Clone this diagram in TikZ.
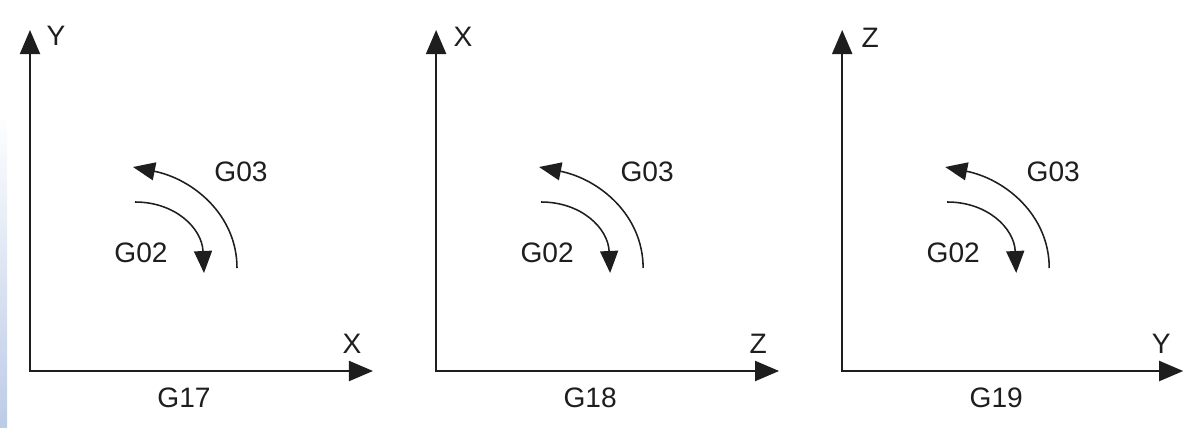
\documentclass[tikz,border=0pt]{standalone}
\usepackage{fontspec}
\setmainfont{Liberation Sans}
\usetikzlibrary{arrows.meta}
\definecolor{ink}{RGB}{30,30,30}
\definecolor{edge}{RGB}{188,203,230}

\begin{document}
\begin{tikzpicture}[x=0.025cm, y=-0.025cm,
  axis/.style={ink, line width=1.4pt, {Triangle[length=0.6cm,width=0.5cm]}-{Triangle[length=0.6cm,width=0.5cm]}},
  turn/.style={ink, line width=1.1pt, -{Triangle[length=0.55cm,width=0.45cm]}},
  lbl/.style={inner sep=0pt, text=ink, font=\fontsize{20}{24}\selectfont}]
  \useasboundingbox (0,0) rectangle (1188,427);
  \shade[top color=white, bottom color=edge] (0,110) rectangle (7,427);
  % G17 plane
  \begin{scope}
  \coordinate (v1) at (30,30);
  \coordinate (o1) at (30,371);
  \coordinate (h1) at (373,371);
  \draw[axis] (v1) -- (o1) -- (h1);
  \coordinate (a1) at (237,268);
  \coordinate (b1) at (133,167);
  \draw[turn] (a1) .. controls +(0,-53) and +(60,12) .. (b1);
  \coordinate (c1) at (135,202);
  \coordinate (d1) at (204,273);
  \draw[turn] (c1) .. controls +(40,0) and +(-2,-45) .. (d1);
  \node[lbl] (up1) at (56,36) {Y};
  \node[lbl] (rt1) at (352,344) {X};
  \node[lbl] (ccw1) at (241,172) {G03};
  \node[lbl] (cw1) at (141,253) {G02};
  \node[lbl] (pl1) at (184,398) {G17};
  \end{scope}
  % G18 plane
  \begin{scope}[xshift=10.15cm]
  \coordinate (v2) at (30,30);
  \coordinate (o2) at (30,371);
  \coordinate (h2) at (373,371);
  \draw[axis] (v2) -- (o2) -- (h2);
  \coordinate (a2) at (237,268);
  \coordinate (b2) at (133,167);
  \draw[turn] (a2) .. controls +(0,-53) and +(60,12) .. (b2);
  \coordinate (c2) at (135,202);
  \coordinate (d2) at (204,273);
  \draw[turn] (c2) .. controls +(40,0) and +(-2,-45) .. (d2);
  \node[lbl] (up2) at (57,37) {X};
  \node[lbl] (rt2) at (352,344) {Z};
  \node[lbl] (ccw2) at (241,172) {G03};
  \node[lbl] (cw2) at (141,253) {G02};
  \node[lbl] (pl2) at (184,398) {G18};
  \end{scope}
  % G19 plane
  \begin{scope}[xshift=20.3cm]
  \coordinate (v3) at (30,30);
  \coordinate (o3) at (30,371);
  \coordinate (h3) at (371,371);
  \draw[axis] (v3) -- (o3) -- (h3);
  \coordinate (a3) at (237,268);
  \coordinate (b3) at (133,167);
  \draw[turn] (a3) .. controls +(0,-53) and +(60,12) .. (b3);
  \coordinate (c3) at (135,202);
  \coordinate (d3) at (204,273);
  \draw[turn] (c3) .. controls +(40,0) and +(-2,-45) .. (d3);
  \node[lbl] (up3) at (58,38) {Z};
  \node[lbl] (rt3) at (349,344) {Y};
  \node[lbl] (ccw3) at (241,172) {G03};
  \node[lbl] (cw3) at (141,253) {G02};
  \node[lbl] (pl3) at (184,398) {G19};
  \end{scope}
\end{tikzpicture}
\end{document}
